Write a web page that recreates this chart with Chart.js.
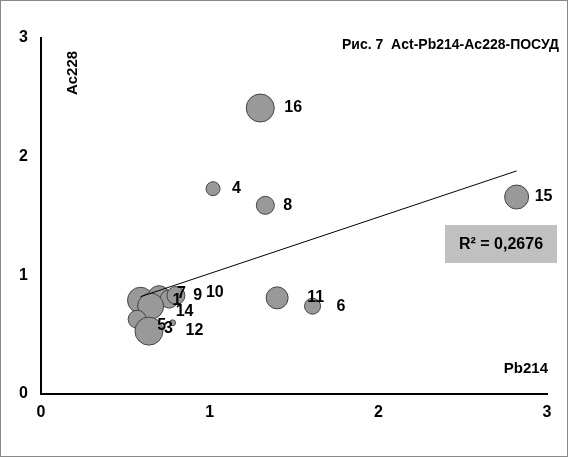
<!DOCTYPE html>
<html><head><meta charset="utf-8">
<script src="https://cdn.jsdelivr.net/npm/chart.js@4"></script>
<style>body{margin:0;background:#fff}#w{width:568px;height:457px;position:relative;box-sizing:border-box;border:1px solid #888}</style>
</head><body><div id="w"><canvas id="c"></canvas></div>
<script>
const labels = ["16","4","8","15","11","6","1","7","9","10","14","5","3","12"];
const xs = [1.30,1.02,1.33,2.82,1.40,1.61,0.59,0.70,0.76,0.80,0.65,0.57,0.64,0.78];
const ys = [2.41,1.73,1.59,1.66,0.81,0.74,0.79,0.82,0.80,0.83,0.74,0.63,0.53,0.60];
const rs = [14,7,9,12,11,8,13,11,9,9,13,9,14,3];
const labelPos = [[30,0],[25,0],[24,0],[24,0],[36,0],[30,0],[38,0],[24,-3],[30,-3],[36,-3],[31,5],[26,6],[21,-3],[19,8]];
const trendX = [0.59, 2.82];
const trendY = [0.82, 1.88];
const r2Text = "R² = 0,2676";

const bubbles = xs.map((x,i)=>({x:x,y:ys[i],r:rs[i]}));
const font = {family:"Arial", weight:"bold", size:16};

const deco = {
  id:"deco",
  afterDatasetsDraw(ch){
    const c = ch.ctx, meta = ch.getDatasetMeta(1);
    c.save();
    c.fillStyle="#000"; c.font="bold 16px Arial"; c.textBaseline="middle";
    meta.data.forEach((p,i)=>{ c.fillText(labels[i], p.x+labelPos[i][0]-6, p.y+labelPos[i][1]); });
    c.font="bold 14px Arial"; c.textAlign="right";
    c.fillText("Рис. 7  Act-Pb214-Ac228-ПОСУД", 558, 44);
    c.font="bold 15px Arial";
    c.fillText("Pb214", 547, 368);
    c.fillStyle="#c0c0c0"; c.fillRect(444,224,112,38);
    c.fillStyle="#000"; c.font="bold 16px Arial"; c.textAlign="center";
    c.fillText(r2Text, 500, 244);
    c.translate(72,72); c.rotate(-Math.PI/2); c.font="bold 15px Arial";
    c.fillText("Ac228",0,0);
    c.restore();
  }
};

new Chart(document.getElementById("c"), {
  type:"bubble",
  data:{datasets:[
    {type:"line", data:trendX.map((x,i)=>({x:x,y:trendY[i]})), borderColor:"#000", borderWidth:1, pointRadius:0, fill:false},
    {data:bubbles, backgroundColor:"#999", borderColor:"#444", borderWidth:1}
  ]},
  options:{
    responsive:true, maintainAspectRatio:false, animation:false,
    layout:{padding:{left:0,right:20,top:37,bottom:0}},
    plugins:{legend:{display:false}, tooltip:{enabled:false}},
    scales:{
      x:{type:"linear", min:0, max:3, grid:{display:false, tickColor:"#000", tickLength:5},
         afterFit(s){ s.height = 62; },
         border:{color:"#000", width:2}, ticks:{stepSize:1, color:"#000", font:font, padding:4}},
      y:{min:0, max:3, grid:{display:false, tickColor:"#000", tickLength:5},
         afterFit(s){ s.width = 40; },
         border:{color:"#000", width:2}, ticks:{stepSize:1, color:"#000", font:font, padding:8}}
    }
  },
  plugins:[deco]
});
</script></body></html>
